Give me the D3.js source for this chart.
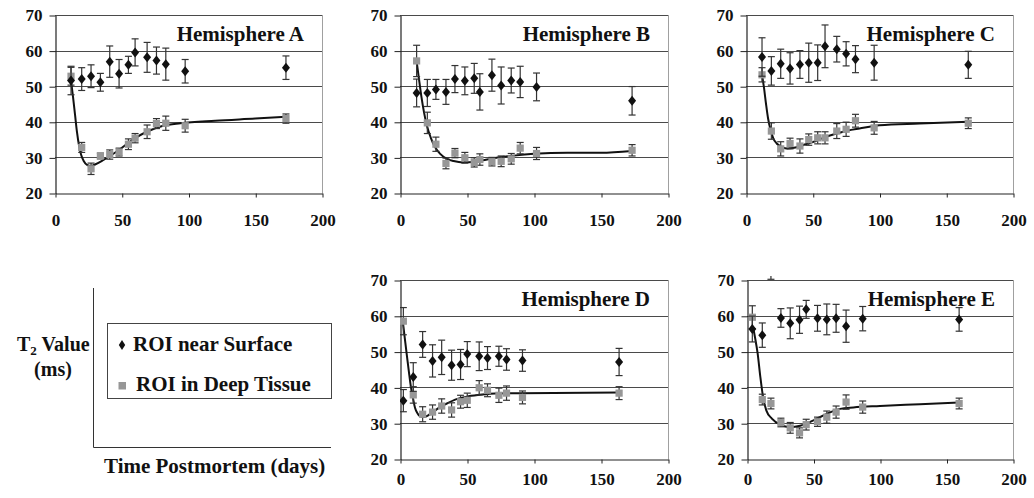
<!DOCTYPE html>
<html>
<head>
<meta charset="utf-8">
<script src="https://cdn.jsdelivr.net/npm/d3@7/dist/d3.min.js"></script>
<style>
  html, body { margin: 0; padding: 0; background: #fff; }
  svg { display: block; }
  text { font-family: "Liberation Serif", "Times New Roman", serif; font-weight: bold; fill: #111; }
</style>
</head>
<body>
<svg id="chart" width="1034" height="498"></svg>
<script>
// ---- Data: T2 (ms) vs time postmortem (days), mean ± error ----
const xTicks = [0, 50, 100, 150, 200];
const yTicks = [20, 30, 40, 50, 60, 70];
const hemispheres = ["A", "B", "C", "D", "E"];

const daysA = [12, 20, 27, 34, 41, 48, 55, 60, 69, 76, 83, 97.5, 173];
const surfaceA = [51.6, 52.0, 52.8, 51.1, 56.9, 53.5, 56.0, 59.5, 58.1, 57.2, 56.2, 54.2, 55.2];
const surfaceErrA = [4.0, 3.2, 3.2, 2.5, 4.4, 4.0, 2.4, 3.8, 4.2, 3.8, 4.5, 3.3, 3.3];
const deepA = [52.8, 32.8, 26.8, 30.4, 30.8, 31.5, 33.7, 35.4, 37.2, 39.5, 39.6, 38.9, 40.9];
const deepErrA = [2.5, 1.4, 1.6, 0.8, 1.3, 1.1, 1.5, 1.3, 1.9, 1.4, 2.0, 1.8, 1.3];
const fitA = [[12, 51.5], [13.5, 47], [15, 42], [16.5, 37], [18, 33.3], [19.5, 30.8], [21.5, 29], [24, 27.9],
  [27, 27.6], [30, 28], [36, 29.2], [42, 30.6], [48.7, 32.3], [58.7, 35.1], [68.7, 37.2], [81, 38.9],
  [94, 39.6], [120, 40.3], [150, 40.9], [173, 41.4]];

const daysB = [12.4, 20.4, 26.8, 34.3, 41, 48.4, 55.4, 59.6, 68.6, 75.5, 83, 89.7, 101.9, 173.2];
const surfaceB = [48.1, 48.1, 49.1, 48.4, 52.0, 51.5, 52.2, 48.4, 53.1, 50.2, 51.6, 51.2, 49.8, 45.9];
const surfaceErrB = [3.9, 3.8, 2.8, 3.5, 3.8, 3.9, 4.2, 5.1, 4.5, 5.2, 3.5, 4.4, 3.9, 4.0];
const deepB = [57.1, 39.7, 33.7, 28.3, 31.2, 29.9, 28.6, 29.4, 28.8, 28.9, 29.6, 32.6, 31.1, 32.0];
const deepErrB = [4.4, 3.0, 2.0, 1.5, 1.3, 1.5, 1.3, 1.6, 1.2, 1.5, 1.5, 1.6, 1.7, 1.6];
const fitB = [[12.4, 57], [14, 52.5], [16, 47], [18, 42.5], [20, 39], [23, 35.5], [26, 33], [30, 31],
  [35, 29.6], [40, 29], [47, 28.6], [55, 28.7], [62, 29.2], [72, 29.9], [85, 30.5], [100, 31],
  [125, 31.3], [150, 31.3], [173, 31.8]];

const daysC = [12, 19, 26, 33, 40.4, 47, 53.7, 59.2, 68, 75, 82, 96, 166.5];
const surfaceC = [58.2, 54.3, 56.3, 55.0, 56.1, 56.6, 56.6, 61.2, 60.4, 59.1, 57.6, 56.6, 56.0];
const surfaceErrC = [5.4, 4.0, 4.1, 4.4, 3.9, 5.5, 5.0, 6.0, 3.6, 3.4, 3.8, 4.9, 3.8];
const deepC = [53.2, 37.4, 32.4, 33.9, 33.2, 35.0, 35.5, 35.5, 37.4, 37.9, 40.3, 38.3, 39.6];
const deepErrC = [2.0, 2.3, 2.0, 1.5, 2.0, 1.6, 1.7, 1.7, 2.1, 2.0, 1.8, 1.8, 1.5];
const fitC = [[12, 53.2], [13.5, 49.5], [15, 45], [16.5, 41], [18.5, 37.6], [20.5, 35.3], [23, 33.9],
  [27, 32.9], [31, 32.5], [36, 32.7], [43, 33.5], [50, 34.3], [58, 35.5], [67.8, 36.7], [76, 37.5],
  [85, 38.1], [100, 39], [130, 39.5], [166.5, 40]];

const daysD = [2.5, 9.9, 16.9, 24.3, 31.1, 38.5, 45.2, 50.2, 59.1, 65.3, 73.8, 79.5, 91.4, 163.5];
const surfaceD = [36.3, 42.9, 52.0, 47.4, 48.4, 46.2, 46.4, 49.3, 48.7, 48.2, 48.7, 47.8, 47.5, 47.1];
const surfaceErrD = [3.1, 4.0, 3.6, 4.5, 4.8, 4.2, 4.2, 3.5, 4.0, 3.2, 2.8, 3.0, 3.0, 3.8];
const deepD = [58.5, 37.9, 32.5, 33.1, 34.8, 33.7, 36.0, 36.4, 39.9, 39.2, 37.8, 38.4, 37.2, 38.4];
const deepErrD = [3.8, 2.3, 2.1, 2.0, 2.0, 2.0, 1.8, 2.0, 2.0, 1.8, 2.0, 2.0, 1.8, 1.8];
const fitD = [[2, 58.7], [3.5, 54], [5, 49.3], [6.6, 44.5], [8.2, 40], [9.7, 37], [11.2, 34.3], [13, 32.8],
  [15, 31.9], [18, 31.7], [21, 32.2], [25, 33.2], [28.7, 34.2], [35, 35.5], [41.2, 36.6], [51.2, 37.5],
  [61.2, 38], [71.2, 38.3], [90, 38.4], [163.5, 38.6]];

const daysE = [4, 11.5, 18, 25.5, 32.5, 39.5, 44.5, 53, 60, 67, 74.5, 87, 159.5];
const surfaceE = [56.3, 54.6, 74.0, 59.4, 57.9, 58.9, 61.8, 59.3, 59.0, 59.3, 57.1, 59.2, 59.0];
const surfaceErrE = [3.6, 3.4, 3.8, 2.6, 4.3, 3.8, 2.5, 3.6, 4.3, 3.9, 4.5, 3.4, 3.3];
const deepE = [59.6, 36.6, 35.5, 30.2, 28.7, 27.3, 29.6, 30.4, 31.7, 33.1, 35.9, 34.5, 35.5];
const deepErrE = [3.2, 1.5, 1.5, 1.2, 1.5, 1.4, 1.5, 1.3, 1.7, 1.7, 2.0, 1.7, 1.5];
const fitE = [[4.5, 57], [6, 54], [8, 49.5], [10, 43], [12, 37.5], [14.5, 33.6], [18.7, 31.3], [25, 29.6],
  [32.5, 28.9], [40, 29.3], [50, 30.8], [60, 32.6], [70, 34], [80, 34.4], [100, 34.8], [130, 35.3],
  [159.5, 35.8]];

const seriesByPanel = {
  A: { days: daysA, surface: surfaceA, surfaceErr: surfaceErrA, deep: deepA, deepErr: deepErrA, fit: fitA },
  B: { days: daysB, surface: surfaceB, surfaceErr: surfaceErrB, deep: deepB, deepErr: deepErrB, fit: fitB },
  C: { days: daysC, surface: surfaceC, surfaceErr: surfaceErrC, deep: deepC, deepErr: deepErrC, fit: fitC },
  D: { days: daysD, surface: surfaceD, surfaceErr: surfaceErrD, deep: deepD, deepErr: deepErrD, fit: fitD },
  E: { days: daysE, surface: surfaceE, surfaceErr: surfaceErrE, deep: deepE, deepErr: deepErrE, fit: fitE }
};

// ---- Layout of the five panels (pixel boxes of the plot areas) ----
const layout = {
  A: { x0: 55, x1: 322, y0: 15, y1: 193, labelGap: 33 },
  B: { x0: 400, x1: 668, y0: 15, y1: 193, labelGap: 33 },
  C: { x0: 746, x1: 1013, y0: 15, y1: 193, labelGap: 33 },
  D: { x0: 400, x1: 668, y0: 280, y1: 459, labelGap: 26 },
  E: { x0: 747, x1: 1013, y0: 280, y1: 459, labelGap: 26 }
};

const svg = d3.select("#chart");
const gridColor = "#4a4a4a";
const surfaceColor = "#111";
const deepColor = "#979797";
const errColor = "#333";
const diamondPath = "M0,-5L4,0L0,5L-4,0Z";

hemispheres.forEach(key => {
  const L = layout[key];
  const S = seriesByPanel[key];
  const x = d3.scaleLinear().domain([0, 200]).range([L.x0, L.x1]);
  const y = d3.scaleLinear().domain([20, 70]).range([L.y1, L.y0]);
  const g = svg.append("g");

  // clip region for marks (a few px of headroom above the plot)
  const clipId = "clip" + key;
  svg.append("clipPath").attr("id", clipId)
    .append("rect").attr("x", L.x0).attr("y", L.y0 - 4)
    .attr("width", L.x1 - L.x0 + 1).attr("height", L.y1 - L.y0 + 4);

  // right border of plot area
  g.append("line").attr("x1", L.x1 + 0.5).attr("x2", L.x1 + 0.5)
    .attr("y1", L.y0).attr("y2", L.y1).attr("stroke", "#a0a0a0").attr("stroke-width", 1);

  // horizontal gridlines
  g.selectAll(".grid").data(yTicks.filter(v => v > 20)).enter().append("line")
    .attr("x1", L.x0).attr("x2", L.x1)
    .attr("y1", d => Math.round(y(d)) + 0.5).attr("y2", d => Math.round(y(d)) + 0.5)
    .attr("stroke", gridColor).attr("stroke-width", 1.1);

  // y axis
  const yAxis = d3.axisLeft(y).tickValues(yTicks).tickSize(6).tickSizeOuter(0).tickPadding(7);
  const ya = g.append("g").attr("transform", `translate(${L.x0 + 0.5},0.5)`).call(yAxis);
  ya.select(".domain").attr("stroke", "#222").attr("stroke-width", 1.2);
  ya.selectAll(".tick line").attr("stroke", "#222");
  ya.selectAll(".tick text").attr("font-size", 17).attr("fill", "#111")
    .attr("font-family", "Liberation Serif, Times New Roman, serif").attr("font-weight", "bold");

  // x axis
  const xAxis = d3.axisBottom(x).tickValues(xTicks).tickSize(4).tickSizeOuter(0).tickPadding(L.labelGap - 17);
  const xa = g.append("g").attr("transform", `translate(0.5,${L.y1 + 0.5})`).call(xAxis);
  xa.select(".domain").attr("stroke", "#222").attr("stroke-width", 1.2);
  xa.selectAll(".tick line").attr("stroke", "#222");
  xa.selectAll(".tick text").attr("font-size", 17).attr("fill", "#111")
    .attr("font-family", "Liberation Serif, Times New Roman, serif").attr("font-weight", "bold");

  const marks = g.append("g").attr("clip-path", `url(#${clipId})`);

  // fitted curve
  const line = d3.line().x(d => x(d[0])).y(d => y(d[1])).curve(d3.curveMonotoneX);
  marks.append("path").datum(S.fit).attr("d", line)
    .attr("fill", "none").attr("stroke", "#111").attr("stroke-width", 2);

  function drawErrorBars(values, errs, color) {
    const rows = S.days.map((d, i) => ({ d, v: values[i], e: errs[i] }));
    const eg = marks.append("g").attr("stroke", color).attr("stroke-width", 1.2);
    rows.forEach(r => {
      const cx = x(r.d);
      eg.append("line").attr("x1", cx).attr("x2", cx).attr("y1", y(r.v - r.e)).attr("y2", y(r.v + r.e));
      [r.v - r.e, r.v + r.e].forEach(v => {
        eg.append("line").attr("x1", cx - 3.5).attr("x2", cx + 3.5).attr("y1", y(v)).attr("y2", y(v));
      });
    });
    return rows;
  }

  // deep tissue series (grey squares)
  const deepRows = drawErrorBars(S.deep, S.deepErr, errColor);
  marks.append("g").selectAll("rect").data(deepRows).enter().append("rect")
    .attr("x", r => x(r.d) - 3.6).attr("y", r => y(r.v) - 3.6)
    .attr("width", 7.2).attr("height", 7.2).attr("fill", deepColor);

  // surface series (black diamonds)
  const surfRows = drawErrorBars(S.surface, S.surfaceErr, errColor);
  marks.append("g").selectAll("path").data(surfRows).enter().append("path")
    .attr("d", diamondPath).attr("transform", r => `translate(${x(r.d)},${y(r.v)})`)
    .attr("fill", surfaceColor);

  // panel title
  g.append("text").attr("x", L.x1 - 18).attr("y", L.y0 + 26)
    .attr("text-anchor", "end").attr("font-size", 21).text("Hemisphere " + key);
});

// ---- Shared axis titles and legend ----
const leg = svg.append("g");
leg.append("line").attr("x1", 93.5).attr("x2", 93.5).attr("y1", 288).attr("y2", 447.5)
  .attr("stroke", "#333").attr("stroke-width", 1);
leg.append("line").attr("x1", 93.5).attr("x2", 331).attr("y1", 447.5).attr("y2", 447.5)
  .attr("stroke", "#333").attr("stroke-width", 1);

const t2 = leg.append("text").attr("x", 17).attr("y", 351).attr("font-size", 20);
t2.append("tspan").text("T");
t2.append("tspan").attr("font-size", 13).attr("dy", 4).text("2");
t2.append("tspan").attr("dy", -4).text(" Value");
leg.append("text").attr("x", 53).attr("y", 376).attr("text-anchor", "middle")
  .attr("font-size", 20).text("(ms)");

leg.append("rect").attr("x", 107.5).attr("y", 323.5).attr("width", 224).attr("height", 75)
  .attr("fill", "none").attr("stroke", "#444").attr("stroke-width", 1);
leg.append("path").attr("d", "M0,-5L3.2,0L0,5L-3.2,0Z").attr("transform", "translate(122,345)")
  .attr("fill", surfaceColor);
leg.append("text").attr("x", 133).attr("y", 351).attr("font-size", 21).text("ROI near Surface");
leg.append("rect").attr("x", 118.5).attr("y", 382).attr("width", 7.5).attr("height", 7.5)
  .attr("fill", deepColor);
leg.append("text").attr("x", 136).attr("y", 391).attr("font-size", 21).text("ROI in Deep Tissue");

leg.append("text").attr("x", 104).attr("y", 473).attr("font-size", 21).text("Time Postmortem (days)");
</script>
</body>
</html>
